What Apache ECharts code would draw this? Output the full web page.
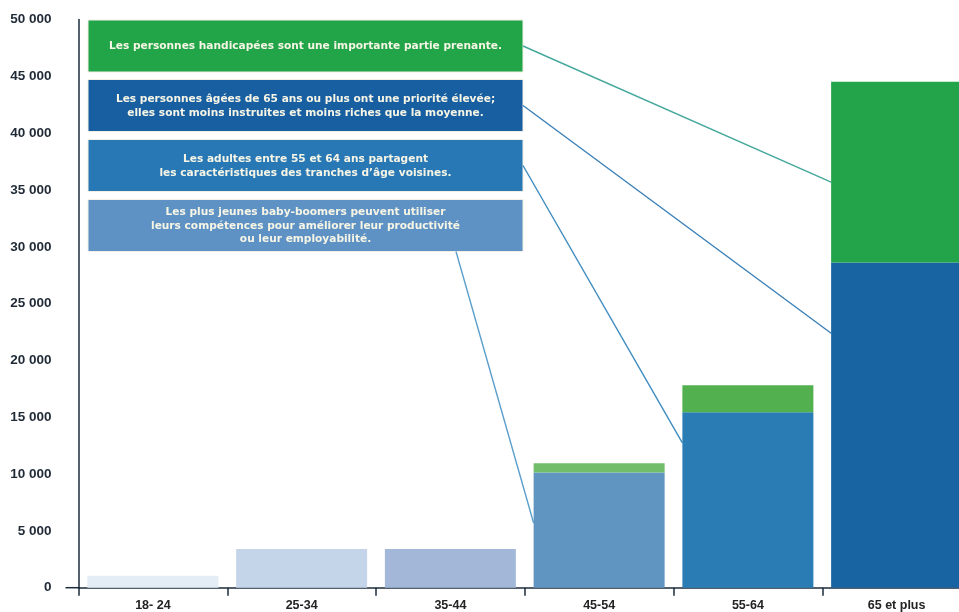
<!DOCTYPE html>
<html><head><meta charset="utf-8">
<script src="https://cdn.jsdelivr.net/npm/echarts@6/dist/echarts.min.js"></script>
<style>html,body{margin:0;padding:0;background:#fff}#c{width:959px;height:612px}</style>
</head><body><div id="c"></div>
<script>
const categories = ['18- 24', '25-34', '35-44', '45-54', '55-64', '65 et plus'];
const baseValues = [1050, 3400, 3400, 10150, 15450, 28620];
const disabilityValues = [0, 0, 0, 800, 2370, 15920];
const yTicks = [0, 50000, 5000];
const baseColors = ['#e4ecf5', '#c5d5e9', '#a3b8d9', '#6094c1', '#2a7cb4', '#1863a1'];
const greenColors = ['#72bd6c', '#72bd6c', '#72bd6c', '#72bd6c', '#52b04f', '#23a34a'];
const notes = [
  'Les personnes handicapées sont une importante partie prenante.',
  'Les personnes âgées de 65 ans ou plus ont une priorité élevée;\nelles sont moins instruites et moins riches que la moyenne.',
  'Les adultes entre 55 et 64 ans partagent\nles caractéristiques des tranches d’âge voisines.',
  'Les plus jeunes baby-boomers peuvent utiliser\nleurs compétences pour améliorer leur productivité\nou leur employabilité.'
];
const noteTargetCategory = ['65 et plus', '65 et plus', '55-64', '45-54'];
const noteTargetValue = [35700, 22400, 12750, 5700];

const boxColors = ['#22a548', '#185fa2', '#2878b5', '#5f92c4'];
const lineColors = ['#45a89c', '#3a80b8', '#3f8cc0', '#5ba0cc'];
const boxes = [[88, 20, 435, 52], [88, 79.5, 435, 52], [88, 139.5, 435, 52], [88, 199.5, 435, 52]];

const chart = echarts.init(document.getElementById('c'), null, {renderer: 'canvas'});
const fmt = v => v >= 1000 ? Math.floor(v / 1000) + ' ' + String(v % 1000).padStart(3, '0') : String(v);
const option = {
  animation: false,
  backgroundColor: '#fff',
  grid: {left: 78.5, right: -12, top: 19.6, bottom: 24.3, containLabel: false, outerBoundsMode: 'none'},
  xAxis: {
    type: 'category', data: categories,
    axisLine: {lineStyle: {color: '#1b2b3b', width: 1.5}},
    axisTick: {show: true, length: 8, lineStyle: {color: '#1b2b3b', width: 1.5}},
    axisLabel: {color: '#232323', fontWeight: 'bold', fontSize: 12.5, fontFamily: '"Liberation Sans Narrow", "Liberation Sans", Arial, sans-serif', margin: 11}
  },
  yAxis: {
    type: 'value', min: yTicks[0], max: yTicks[1], interval: yTicks[2],
    axisLine: {show: true, lineStyle: {color: '#1b2b3b', width: 1.5}},
    axisTick: {show: false},
    splitLine: {show: false},
    axisLabel: {color: '#1f2a36', fontWeight: 'bold', fontSize: 13.5, fontFamily: '"Liberation Sans", Arial, sans-serif', margin: 27, formatter: fmt}
  },
  series: [
    {type: 'bar', stack: 's', barWidth: 131, data: baseValues.map((v, i) => ({value: v, itemStyle: {color: baseColors[i]}}))},
    {type: 'bar', stack: 's', barWidth: 131, data: disabilityValues.map((v, i) => ({value: v, itemStyle: {color: greenColors[i]}}))}
  ]
};
chart.setOption(option);

function draw() {
  const g = [];
  const c0 = chart.convertToPixel({gridIndex: 0}, [0, 0]);
  const c1 = chart.convertToPixel({gridIndex: 0}, [1, 0]);
  const x0 = c0[0] - (c1[0] - c0[0]) / 2;
  g.push({type: 'line', z: 100, shape: {x1: x0 - 13, y1: c0[1], x2: x0 + 1, y2: c0[1]}, style: {stroke: '#1b2b3b', lineWidth: 1.5}});
  boxes.forEach((b, i) => {
    g.push({type: 'rect', shape: {x: b[0], y: b[1], width: b[2], height: b[3]}, style: {fill: boxColors[i], stroke: '#f3efe4', lineWidth: 1}});
    g.push({type: 'text', x: b[0] + b[2] / 2, y: b[1] + b[3] / 2 + 0.5, style: {text: notes[i], fill: '#f6f5e6', font: 'bold 10.6px "DejaVu Sans", sans-serif', align: 'center', verticalAlign: 'middle', lineHeight: 13.5}});
  });
  notes.forEach((n, i) => {
    const ci = categories.indexOf(noteTargetCategory[i]);
    const p = chart.convertToPixel({gridIndex: 0}, [ci, noteTargetValue[i]]);
    const x2 = p[0] - 131 / 2;
    const b = boxes[i];
    let x1, y1;
    if (i === 3) { x1 = 456; y1 = b[1] + b[3]; } else { x1 = b[0] + b[2]; y1 = b[1] + b[3] / 2; }
    g.push({type: 'line', shape: {x1: x1, y1: y1, x2: x2, y2: p[1]}, style: {stroke: lineColors[i], lineWidth: 1.4}});
  });
  chart.setOption({graphic: g});
}
draw();
</script></body></html>
